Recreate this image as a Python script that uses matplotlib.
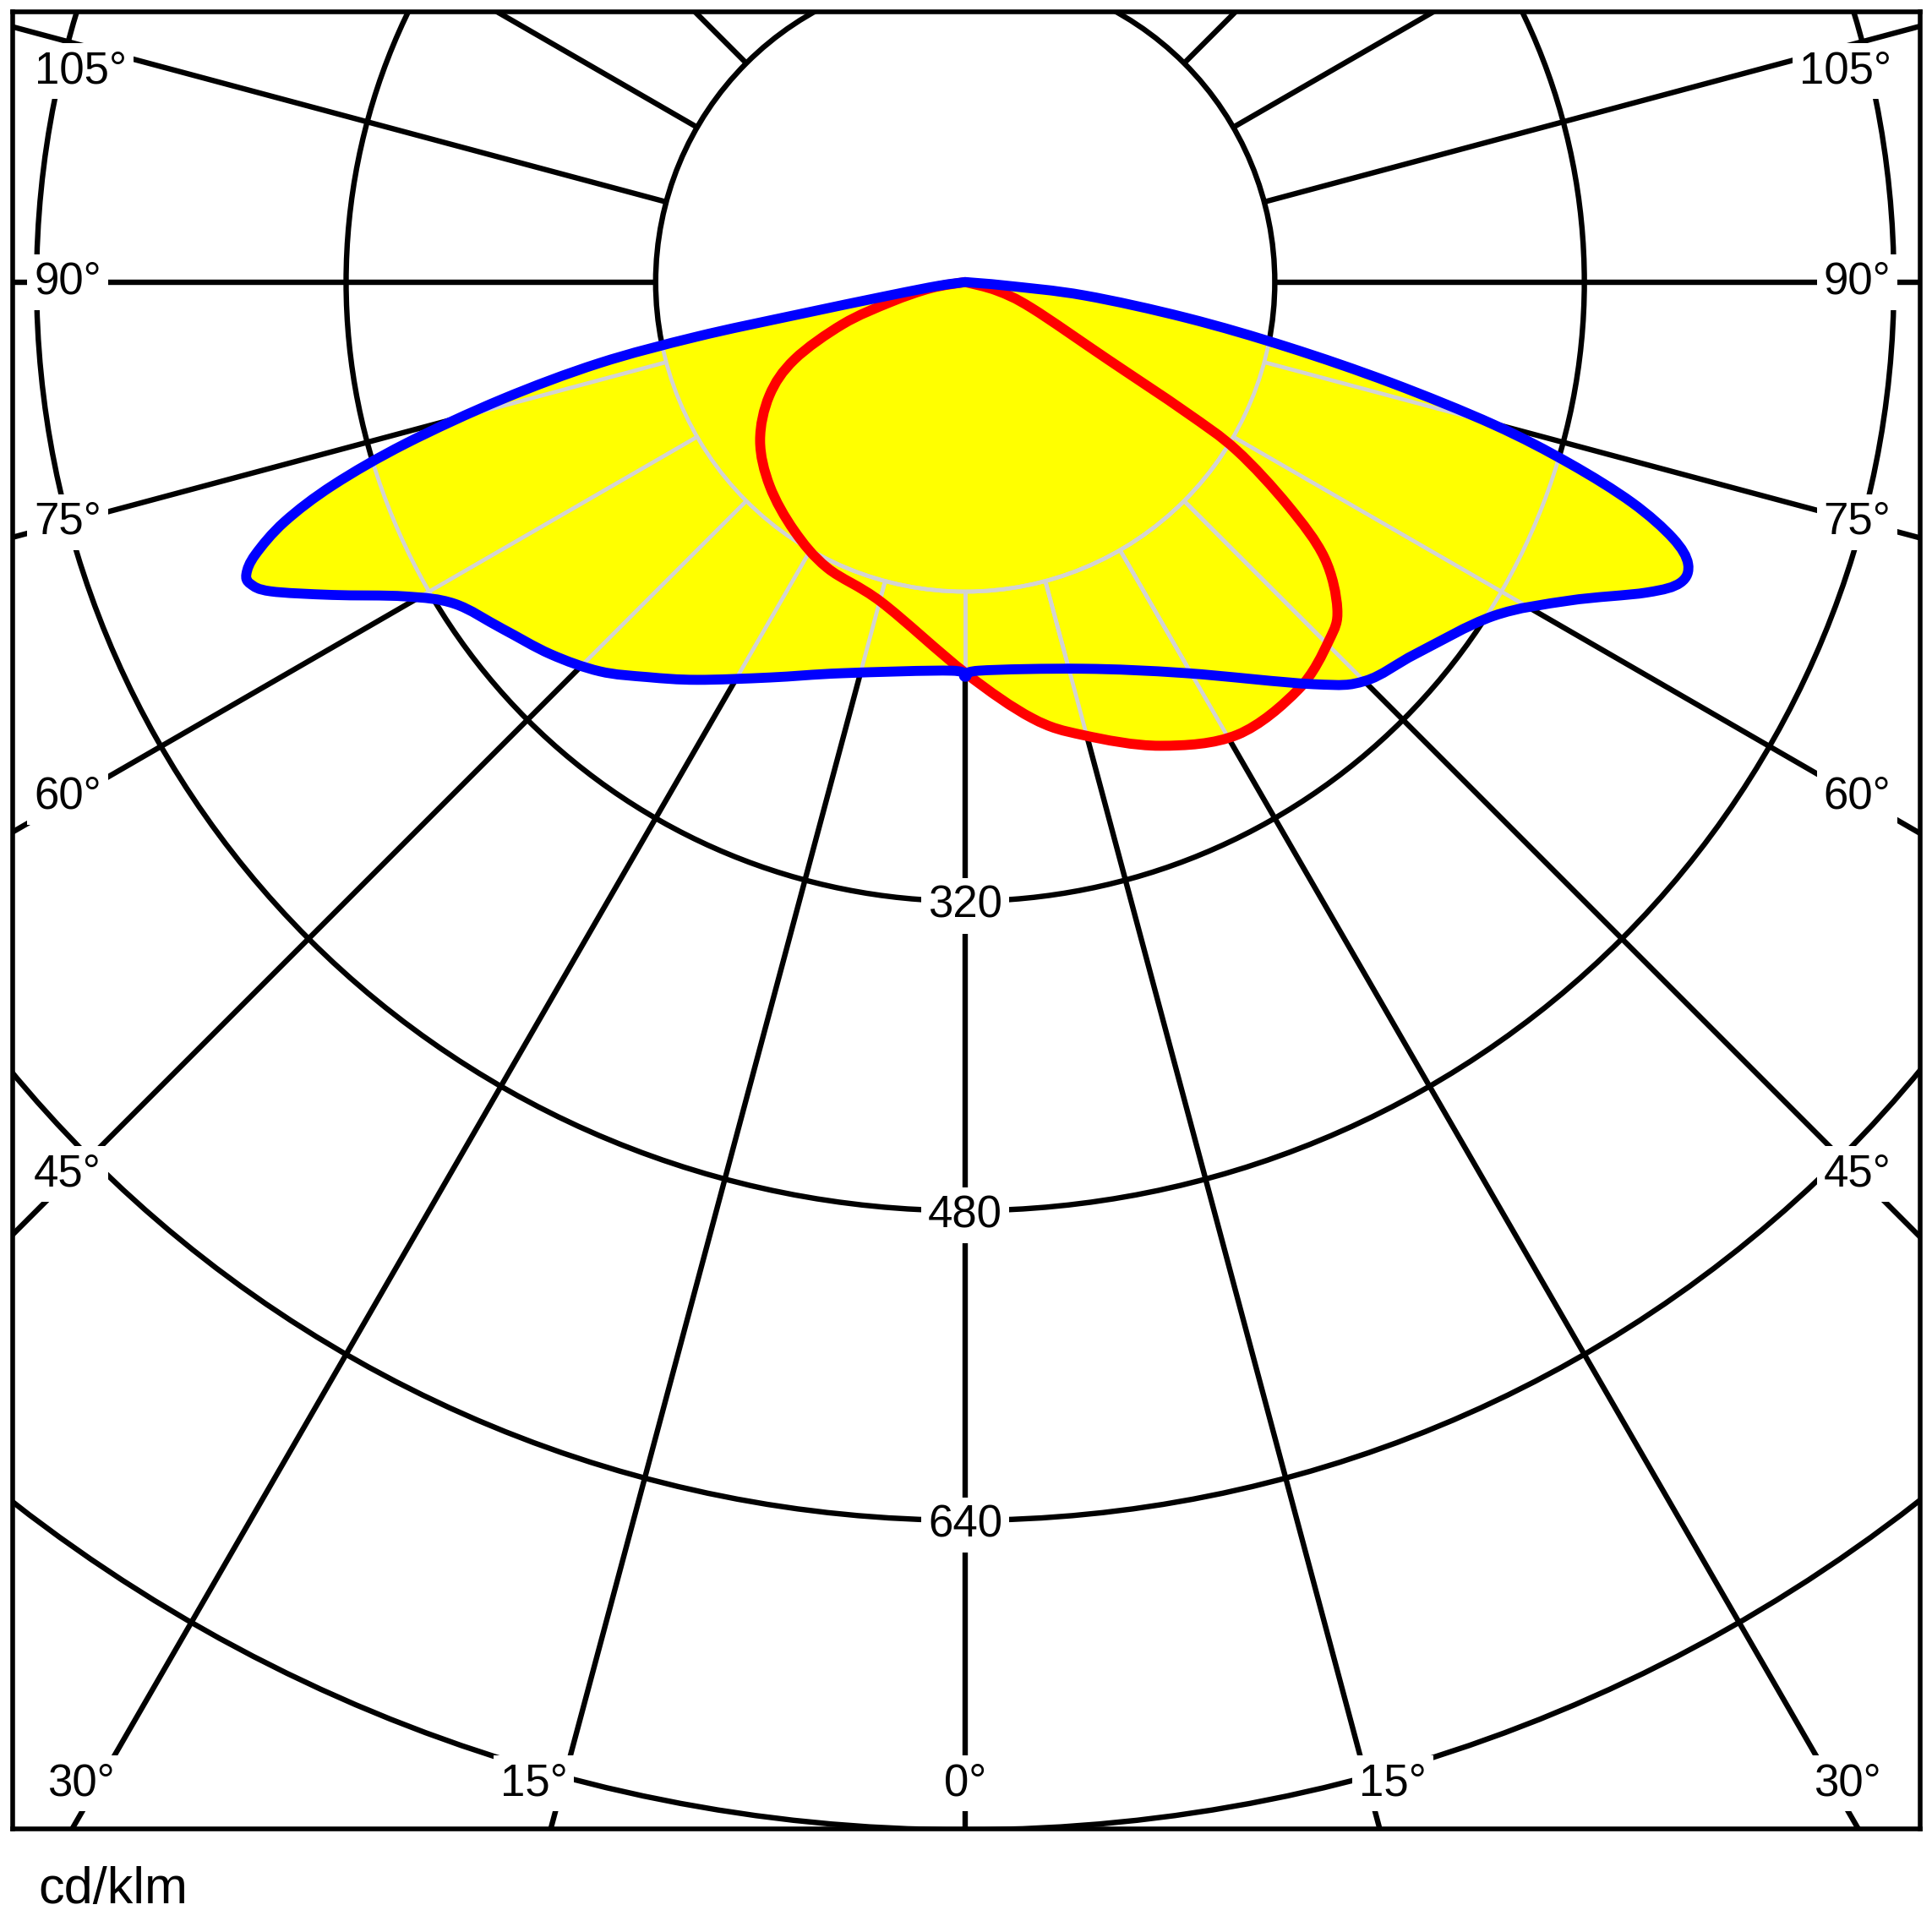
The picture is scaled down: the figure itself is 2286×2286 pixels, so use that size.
import numpy as np
import matplotlib
matplotlib.use('Agg')
import matplotlib.pyplot as plt
from matplotlib.patches import Circle, PathPatch
from matplotlib.path import Path

plt.rcParams['font.family'] = ['Liberation Sans', 'DejaVu Sans']

# C0-C180 plane (blue): signed gamma angle in degrees (negative = left), cd/klm
blue_ang = [-90, -82, -80, -79, -78.5, -77.5, -75.8, -73.9, -72.2, -70.6,
            -69.0, -67.9, -67.1, -66.0, -63.7, -60.7, -57.8, -53.2, -48.1, -43.2,
            -38.8, -34.0, -26.3, -17.5, -2, 0, 2, 17, 29.4, 40.9,
            45.1, 50.5, 57.7, 62.2, 65.5, 67.2, 68.7, 70.1, 71.7, 73.3,
            74.9, 76.7, 78.6, 80.8, 83.6, 85, 90]
blue_val = [0, 14, 40, 90, 142, 194, 247, 301, 343, 373,
            393, 401, 401, 393, 365, 332, 312, 299, 288, 276,
            262, 248, 228, 212, 201, 204, 201, 209, 232, 275,
            292, 302, 323, 353, 387, 401, 401, 389, 363, 326,
            283, 226, 170, 116, 62, 21, 0]

# C90-C270 plane (red)
red_ang = [-90, -80, -75, -71, -65.6, -59.9, -52.3, -43.8, -34.5, -25.8,
           -14.7, 0, 8.7, 14.6, 22.8, 31.0, 39.3, 45.4, 48.7,
           52.5, 55.3, 58.2, 59.5, 61.5, 68.6, 74.8, 90]
red_val = [0, 18, 40, 67, 97, 117, 134, 146, 156, 164,
           171, 202, 228, 242, 260, 273, 272, 264, 256,
           234, 203, 165, 132, 84, 37, 17, 0]

rings = [160, 320, 480, 640, 800]
ring_labels = [320, 480, 640]
spoke_angles = list(range(-180, 180, 15))

# angle labels: text, x, y (cd/klm units)
angle_labels = [
    ('105°', -457, 109), ('90°', -464, 0), ('75°', -464, -124), ('60°', -464, -266), ('45°', -464, -461),
    ('105°', 455, 109), ('90°', 461, 0), ('75°', 461, -124), ('60°', 461, -266), ('45°', 461, -461),
    ('30°', -457, -776), ('15°', -223, -776), ('0°', 0, -776), ('15°', 221, -776), ('30°', 456, -776),
]


def to_xy(ang, val):
    a = np.radians(np.asarray(ang, dtype=float))
    v = np.asarray(val, dtype=float)
    return np.column_stack([v * np.sin(a), -v * np.cos(a)])


def smooth_path(pts, closed=True):
    # Catmull-Rom through the points, drawn as cubic Bezier segments
    n = len(pts)
    verts = [pts[0]]
    codes = [Path.MOVETO]
    for i in range(n - 1):
        p0 = pts[i - 1] if i > 0 else pts[i]
        p1, p2 = pts[i], pts[i + 1]
        p3 = pts[i + 2] if i + 2 < n else pts[i + 1]
        verts += [p1 + (p2 - p0) / 6.0, p2 - (p3 - p1) / 6.0, p2]
        codes += [Path.CURVE4] * 3
    if closed:
        verts.append(pts[0])
        codes.append(Path.CLOSEPOLY)
    return Path(np.array(verts), codes)


fig = plt.figure(figsize=(22.86, 22.86), dpi=100)
ax = fig.add_axes([0.0064, 0.0534, 0.9873, 0.9403])
ax.set_xlim(-492.5, 493.4)
ax.set_ylim(-799.5, 139.5)
ax.set_xticks([])
ax.set_yticks([])
for sp in ax.spines.values():
    sp.set_linewidth(4.0)
    sp.set_color('black')
    sp.set_zorder(10)

GRID_LW = 4.6


def draw_grid(color, lw, zorder, clip=None):
    arts = []
    for r in rings:
        c = Circle((0, 0), r, fill=False, ec=color, lw=lw, zorder=zorder)
        ax.add_patch(c)
        arts.append(c)
    for a in spoke_angles:
        t = np.radians(a)
        ln, = ax.plot([160 * np.sin(t), 1200 * np.sin(t)], [-160 * np.cos(t), -1200 * np.cos(t)],
                      color=color, lw=lw, zorder=zorder, solid_capstyle='butt')
        arts.append(ln)
    if clip is not None:
        for art in arts:
            art.set_clip_path(clip)


draw_grid('black', GRID_LW, 1)

blue_path = smooth_path(to_xy(blue_ang, blue_val))
red_path = smooth_path(to_xy(red_ang, red_val))

blue_fill = PathPatch(blue_path, fc='#ffff00', ec='none', zorder=2)
red_fill = PathPatch(red_path, fc='#ffff00', ec='none', zorder=2)
ax.add_patch(blue_fill)
ax.add_patch(red_fill)

draw_grid('#d3d3d3', 3.4, 3, clip=blue_fill)
draw_grid('#d3d3d3', 3.4, 3, clip=red_fill)

ax.add_patch(PathPatch(red_path, fc='none', ec='#ff0000', lw=8.5, zorder=4, joinstyle='round'))
ax.add_patch(PathPatch(blue_path, fc='none', ec='#0000ff', lw=8.5, zorder=5, joinstyle='round'))

box = dict(boxstyle='square,pad=0.15', fc='white', ec='none')
for r in ring_labels:
    ax.text(0, -r - 2.5, str(r), fontsize=38, ha='center', va='center', bbox=box, zorder=6)
for txt, x, y in angle_labels:
    ax.text(x, y, txt, fontsize=38, ha='center', va='center', bbox=box, zorder=6)

fig.text(45 / 2286, 34 / 2286, 'cd/klm', fontsize=44, ha='left', va='baseline')

fig.savefig('out.png', dpi=100)
